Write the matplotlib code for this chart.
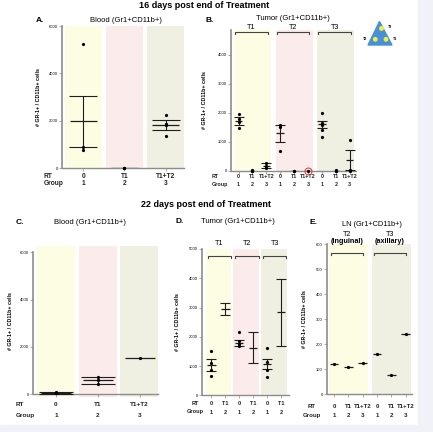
import numpy as np
import matplotlib.pyplot as plt
from matplotlib.patches import Rectangle, Polygon, Circle
from matplotlib import transforms

plt.rcParams['font.family'] = ['Liberation Sans', 'DejaVu Sans']

W, H = 433, 432

# ---- data ----
# A: blood, 16 days
a_rt = ['0', 'T1', 'T1+T2']
a_group = ['1', '2', '3']
a_mean = [1970, 10, 1815]
a_sem = [1080, 0, 195]
a_points = [[5250, 900, 770], [20, 10, 0], [2220, 1880, 1810, 1350]]

# B: tumor, 16 days (T1, T2, T3 tumours x groups 1-3)
b_rt = ['0', 'T1', 'T1+T2'] * 3
b_group = ['1', '2', '3'] * 3
b_sites = ['T1', 'T2', 'T3']
b_mean = [1720, 0, 185, 1300, 0, 0, 1610, 0, 370]
b_sem = [135, 0, 75, 300, 0, 0, 130, 0, 350]
b_points = [[1950, 1800, 1700, 1470], [20, 10, 0], [265, 180, 110],
            [1600, 1530, 700], [15, 0], [0],
            [1990, 1660, 1600, 1430, 1180], [25, 10, 0], [1060, 30, 0]]
b_circled = 5  # index of the circled group

# C: blood, 22 days
c_rt = ['0', 'T1', 'T1+T2']
c_group = ['1', '2', '3']
c_mean = [60, 590, 1520]
c_sem = [30, 150, 0]
c_points = [[90, 50, 40], [730, 600, 450], [1520]]

# D: tumor, 22 days
d_rt = ['0', 'T1'] * 3
d_group = ['1', '2'] * 3
d_sites = ['T1', 'T2', 'T3']
d_mean = [1025, 2950, 1795, 1630, 1070, 2830]
d_sem = [205, 215, 110, 520, 185, 1140]
d_points = [[1520, 1120, 880, 670], [], [2170, 1850, 1750, 1690], [],
            [1610, 1150, 860, 620], []]

# E: lymph nodes, 22 days
e_rt = ['0', 'T1', 'T1+T2'] * 2
e_group = ['1', '2', '3'] * 2
e_sites = ['T2', 'T3']
e_sites_sub = ['(inguinal)', '(axillary)']
e_vals = [123, 110, 124, 163, 78, 242]

YELLOW, PINK, GREEN = '#fdfde3', '#fcebeb', '#eff0e1'
SPINE = '#8c8c8c'
INK = '#1e1e1e'
YLABEL = '# GR-1+ / CD11b+ cells'


def fx(px):
    return px / W


def fy(py):
    return 1 - py / H


fig = plt.figure(figsize=(W / 100, H / 100), dpi=100)
fig.patch.set_facecolor('white')
fig.patches.append(Rectangle((fx(418), 0), 1 - fx(418), 1, transform=fig.transFigure,
                             color='#f1f2f8', zorder=-10))
fig.patches.append(Rectangle((0, 0), 1, fy(425), transform=fig.transFigure,
                             color='#f1f2f8', zorder=-10))


def make_axes(left, right, top, bottom, xlim, ylim):
    ax = fig.add_axes([fx(left), fy(bottom), fx(right) - fx(left), fy(top) - fy(bottom)])
    ax.set_xlim(*xlim)
    ax.set_ylim(*ylim)
    ax.patch.set_alpha(0)
    for s in ['top', 'right']:
        ax.spines[s].set_visible(False)
    ax.spines['left'].set_color(SPINE)
    ax.spines['left'].set_linewidth(1.2)
    ax.spines['bottom'].set_color(SPINE)
    ax.spines['bottom'].set_linewidth(1.0)
    ax.spines['bottom'].set_position(('data', 0))
    ax.tick_params(axis='y', length=2, width=0.5, color=SPINE, labelsize=3, pad=1)
    ax.tick_params(axis='x', length=2, width=0.5, color=SPINE, labelbottom=False)
    return ax


def ylabel(ax, left, right, px):
    ax.set_ylabel(YLABEL, fontsize=3.8, fontweight='bold')
    ax.yaxis.set_label_coords((px - left) / (right - left), 0.5)


def row_labels(ax, xs, rts, groups, rt_y, grp_y, head_x, size, ha='left'):
    tr = transforms.blended_transform_factory(ax.transData, fig.transFigure)
    for x, r, g in zip(xs, rts, groups):
        ax.text(x, fy(rt_y), r, transform=tr, ha='center', va='center',
                fontsize=size, fontweight='bold', color='#222')
        ax.text(x, fy(grp_y), g, transform=tr, ha='center', va='center',
                fontsize=size, fontweight='bold', color='#222')
    fig.text(fx(head_x), fy(rt_y), 'RT', ha=ha, va='center', fontsize=size,
             fontweight='bold', color='#222')
    fig.text(fx(head_x), fy(grp_y), 'Group', ha=ha, va='center', fontsize=size,
             fontweight='bold', color='#222')


def draw_groups(ax, xs, means, sems, points, hw, cap):
    for x, m, s, pts in zip(xs, means, sems, points):
        ax.hlines(m, x - hw, x + hw, color=INK, lw=0.9, zorder=3)
        if s > 0:
            ax.errorbar(x, m, yerr=s, fmt='none', ecolor=INK, elinewidth=0.8,
                        capsize=cap, capthick=0.8, zorder=3)
        if len(pts):
            ax.plot(np.full(len(pts), x), pts, 'o', ms=1.3, color='black',
                    zorder=4, clip_on=False)


def brackets(ax, spans, labels, y, drop, off, size, sub=None, sub_off=None):
    for (x0, x1), lab in zip(spans, labels):
        ax.plot([x0, x0, x1, x1], [y - drop, y, y, y - drop], color='#444',
                lw=0.8, clip_on=False)
        ax.annotate(lab, ((x0 + x1) / 2, y), xytext=(0, off), textcoords='offset points',
                    ha='center', va='center', fontsize=size, annotation_clip=False)
    if sub:
        for (x0, x1), lab in zip(spans, sub):
            ax.annotate(lab, ((x0 + x1) / 2, y), xytext=(0, sub_off),
                        textcoords='offset points', ha='center', va='center',
                        fontsize=size, fontweight='bold', annotation_clip=False)


# ---- titles ----
fig.text(fx(204), fy(5), '16 days post end of Treatment', ha='center', va='center',
         fontsize=6.5, fontweight='bold')
fig.text(fx(206), fy(205), '22 days post end of Treatment', ha='center', va='center',
         fontsize=6.5, fontweight='bold')

# ---- A ----
axA = make_axes(62, 184, 26, 168, (0.48, 3.45), (0, 6000))
xa = np.arange(1, 4)
for x, c in zip(xa, [YELLOW, PINK, GREEN]):
    axA.axvspan(x - 0.45, x + 0.45, color=c, lw=0, zorder=0)
axA.set_yticks([0, 2000, 4000, 6000])
axA.set_xticks(xa)
draw_groups(axA, xa, a_mean, a_sem, a_points, 0.32, 10)
ylabel(axA, 62, 184, 41)
row_labels(axA, xa, a_rt, a_group, 176, 183, 44, 4.8)
fig.text(fx(36), fy(20), 'A.', ha='left', va='center', fontsize=6, fontweight='bold')
fig.text(fx(126), fy(20), 'Blood (Gr1+CD11b+)', ha='center', va='center', fontsize=5.5)

# ---- B ----
axB = make_axes(231, 356, 30, 171, (-0.54, 8.45), (0, 4860))
xb = np.arange(9)
for i, c in enumerate([YELLOW, PINK, GREEN]):
    axB.axvspan(3 * i - 0.33, 3 * i + 2.33, color=c, lw=0, zorder=0)
axB.set_yticks([0, 1000, 2000, 3000, 4000])
axB.set_xticks(xb)
draw_groups(axB, xb, b_mean, b_sem, b_points, 0.27, 3.6)
axB.plot(xb[b_circled], b_mean[b_circled], 'o', ms=5, mfc='none', mec='#e03030',
         mew=0.7, clip_on=False, zorder=5)
brackets(axB, [(3 * i - 0.25, 3 * i + 2.1) for i in range(3)], b_sites, 4780, 60, 3.3, 5.2)
ylabel(axB, 231, 356, 207)
row_labels(axB, xb, b_rt, b_group, 176, 185, 212, 3.9)
fig.text(fx(205), fy(20), 'B.', ha='left', va='center', fontsize=6, fontweight='bold')
fig.text(fx(293), fy(18.5), 'Tumor (Gr1+CD11b+)', ha='center', va='center', fontsize=5.5)

# mouse icon
tri = Polygon([(fx(379.5), fy(21.5)), (fx(368), fy(45)), (fx(392), fy(45))],
              closed=True, transform=fig.transFigure, color='#4a90d9')
fig.patches.append(tri)
for (px, py) in [(381.5, 28.5), (375.3, 39.3), (386, 39.3)]:
    fig.patches.append(Circle((fx(px), fy(py)), 1.7 / W, transform=fig.transFigure,
                              color='#f2f23a', zorder=3))
for (px, py, t, ha) in [(388, 27, 'T3', 'left'), (367.5, 39.5, 'T2', 'right'),
                        (393, 39.5, 'T1', 'left')]:
    fig.text(fx(px), fy(py), t, ha=ha, va='center', fontsize=2.6, fontweight='bold')

# ---- C ----
axC = make_axes(33, 158, 245.7, 396.7, (0.45, 3.44), (-100, 6280))
xc = np.arange(1, 4)
for x, c in zip(xc, [YELLOW, PINK, GREEN]):
    axC.axvspan(x - 0.46, x + 0.46, color=c, lw=0, zorder=0)
axC.spines['left'].set_bounds(0, 6000)
axC.set_yticks([0, 2000, 4000, 6000])
axC.set_xticks(xc)
draw_groups(axC, xc, c_mean, c_sem, c_points, 0.36, 12)
ylabel(axC, 33, 158, 13)
row_labels(axC, xc, c_rt, c_group, 404, 415.7, 16, 4.6)
fig.text(fx(16), fy(223), 'C.', ha='left', va='center', fontsize=6, fontweight='bold')
fig.text(fx(90), fy(223), 'Blood (Gr1+CD11b+)', ha='center', va='center', fontsize=5.5)

# ---- D ----
axD = make_axes(202, 289, 249, 395.3, (-0.68, 5.58), (0, 5000))
xd = np.arange(6)
for i, c in enumerate([YELLOW, PINK, GREEN]):
    axD.axvspan(2 * i - 0.42, 2 * i + 1.42, color=c, lw=0, zorder=0)
axD.set_yticks([0, 1000, 2000, 3000, 4000, 5000])
axD.set_xticks(xd)
draw_groups(axD, xd, d_mean, d_sem, d_points, 0.3, 3.8)
brackets(axD, [(2 * i - 0.28, 2 * i + 1.4) for i in range(3)], d_sites, 4750, 70, 9, 5.2)
ylabel(axD, 202, 289, 180)
row_labels(axD, xd, d_rt, d_group, 403.3, 412, 195, 4.1, ha='center')
fig.text(fx(175), fy(221.5), 'D.', ha='left', va='center', fontsize=6, fontweight='bold')
fig.text(fx(238), fy(221.5), 'Tumor (Gr1+CD11b+)', ha='center', va='center', fontsize=5.5)

# ---- E ----
axE = make_axes(327, 412, 244.3, 394.3, (-0.49, 5.45), (0, 600))
xe = np.arange(6)
for i, c in enumerate([YELLOW, GREEN]):
    axE.axvspan(3 * i - 0.35, 3 * i + 2.35, color=c, lw=0, zorder=0)
axE.set_yticks(np.arange(0, 700, 100))
axE.set_xticks(xe)
draw_groups(axE, xe, e_vals, [0] * 6, [[v] for v in e_vals], 0.3, 0)
brackets(axE, [(3 * i - 0.22, 3 * i + 2.05) for i in range(2)], e_sites, 565, 8, 13.5, 5.2,
         sub=e_sites_sub, sub_off=8.1)
ylabel(axE, 327, 412, 307)
row_labels(axE, xe, e_rt, e_group, 406, 415.7, 312, 4.4, ha='center')
fig.text(fx(310), fy(223), 'E.', ha='left', va='center', fontsize=6, fontweight='bold')
fig.text(fx(372), fy(224), 'LN (Gr1+CD11b+)', ha='center', va='center', fontsize=5.3)

fig.savefig('out.png', dpi=100)
